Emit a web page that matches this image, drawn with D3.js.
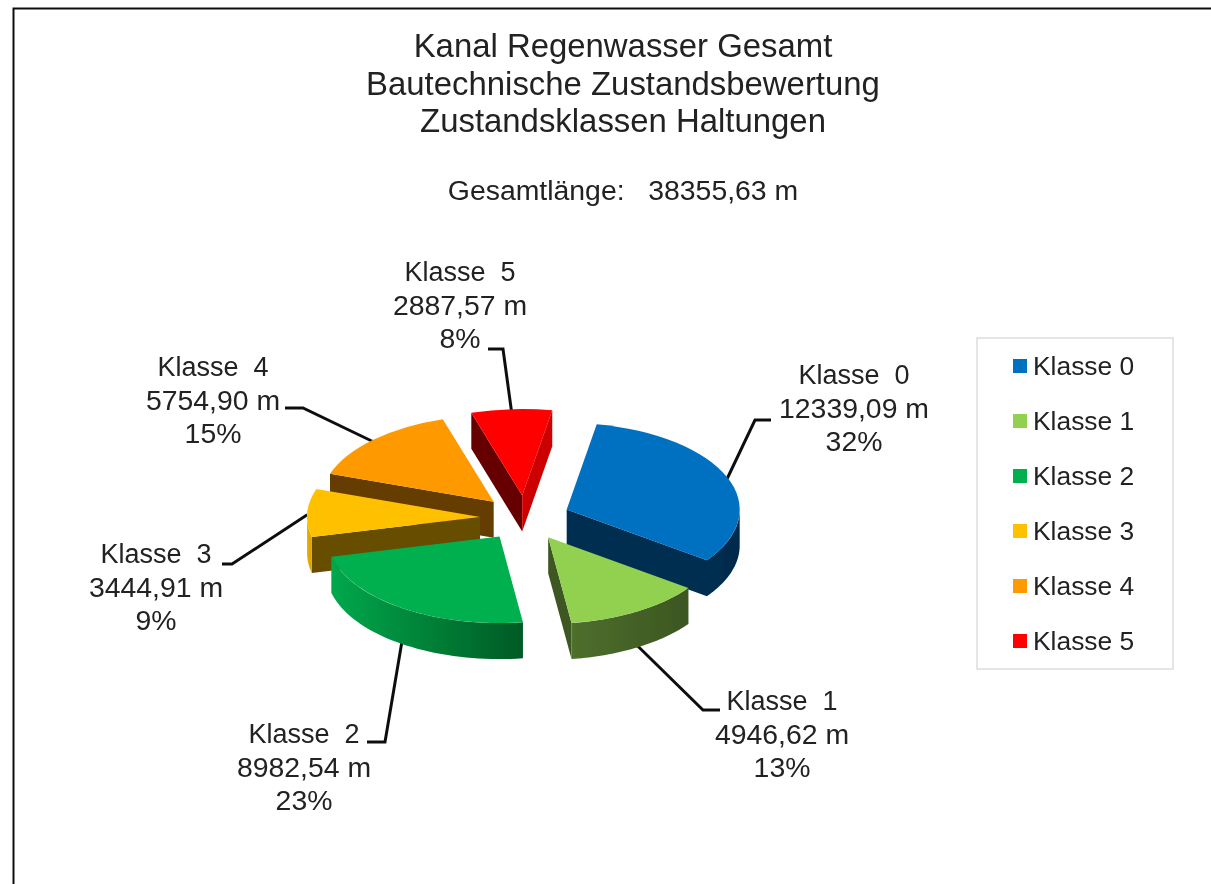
<!DOCTYPE html>
<html>
<head>
<meta charset="utf-8">
<script src="https://cdn.jsdelivr.net/npm/d3@7"></script>
<style>
  html, body { margin: 0; padding: 0; background: #fff; }
  svg { display: block; }
  text { font-family: "Liberation Sans", Arial, sans-serif; fill: #222; white-space: pre; }
</style>
</head>
<body>
<svg id="chart"></svg>
<script>
const categories = ["Klasse 0", "Klasse 1", "Klasse 2", "Klasse 3", "Klasse 4", "Klasse 5"];
const lengths = [12339.09, 4946.62, 8982.54, 3444.91, 5754.9, 2887.57];
const lengthLabels = ["12339,09 m", "4946,62 m", "8982,54 m", "3444,91 m", "5754,90 m", "2887,57 m"];
const percentLabels = ["32%", "13%", "23%", "9%", "15%", "8%"];
const titleLines = ["Kanal Regenwasser Gesamt", "Bautechnische Zustandsbewertung", "Zustandsklassen Haltungen"];
const subtitle = "Gesamtlänge:   38355,63 m";

const colors = ["#0070c0", "#92d050", "#00b050", "#ffc000", "#ff9900", "#ff0000"];
const wallColors = [
  ["#002f52", "#002a4a"],
  ["#4d6f2c", "#3c5621"],
  ["#00a84c", "#005a24"],
  ["#e8ae00", "#d9a300"],
  ["#c47600", "#a86400"],
  ["#990000", "#990000"],
];

const width = 1211;
const height = 884;

// 3d look of the pie
const cx = 525;
const cy = 518;
const radius = 173;
const tilt = 0.5;
const depth = 36;
const explode = 45;
const rotation = (10 * Math.PI) / 180;

// label anchor and leader elbow per class
const labelLayout = [
  { x: 854, y: 384, elbow: [[755, 420], [771, 420]] },
  { x: 782, y: 710, elbow: [[703, 710], [720, 710]] },
  { x: 304, y: 743, elbow: [[385, 742], [367, 742]] },
  { x: 156, y: 563, elbow: [[232, 564], [222, 564]] },
  { x: 213, y: 376, elbow: [[303, 408], [285, 408]] },
  { x: 460, y: 281, elbow: [[503, 349], [488, 349]] },
];

const $svg = d3.select("#chart").attr("width", width).attr("height", height);
const color = d3.scaleOrdinal(categories, colors);
const defs = $svg.append("defs");

// the reference is a slightly soft screenshot
defs
  .append("filter")
  .attr("id", "soft")
  .attr("filterUnits", "userSpaceOnUse")
  .attr("x", 0)
  .attr("y", 0)
  .attr("width", width)
  .attr("height", height)
  .append("feGaussianBlur")
  .attr("stdDeviation", 0.45);

const root = $svg.append("g").attr("filter", "url(#soft)");

root.append("rect").attr("width", width).attr("height", height).attr("fill", "#fff");
root
  .append("path")
  .attr("d", `M13.5,${height}V8.5H${width}`)
  .attr("fill", "none")
  .attr("stroke", "#111")
  .attr("stroke-width", 2);

// titles
const titleY = [57, 95, 132];
root
  .append("g")
  .selectAll("text")
  .data(titleLines)
  .join("text")
  .attr("x", 623)
  .attr("y", (d, i) => titleY[i])
  .attr("text-anchor", "middle")
  .attr("font-size", 32.9)
  .text((d) => d);

root
  .append("text")
  .attr("x", 623)
  .attr("y", 200)
  .attr("text-anchor", "middle")
  .attr("font-size", 28.4)
  .text(subtitle);

// pie layout, exploded slices
const pie = d3.pie().sort(null).startAngle(rotation).endAngle(rotation + 2 * Math.PI);
const slices = pie(lengths).map((s, i) => {
  const mid = (s.startAngle + s.endAngle) / 2;
  return {
    ...s,
    i,
    mid,
    ax: cx + Math.sin(mid) * explode,
    ay: cy - Math.cos(mid) * explode * tilt,
  };
});

const rim = (s, a) => [s.ax + Math.sin(a) * radius, s.ay - Math.cos(a) * radius * tilt];

// leader lines sit under the slices
const leader = d3.line();
root
  .append("g")
  .selectAll("path")
  .data(slices)
  .join("path")
  .attr("fill", "none")
  .attr("stroke", "#111")
  .attr("stroke-width", 3)
  .attr("d", (s) => {
    const [x, y] = rim(s, s.mid);
    const front = Math.cos(s.mid) < 0;
    return leader([[x, front ? y + depth - 2 : y + 2], ...labelLayout[s.i].elbow]);
  });

const shade = (c, k) => {
  const rgb = d3.rgb(c);
  return d3.rgb(rgb.r * k, rgb.g * k, rgb.b * k).formatHex();
};

const topArc = d3.arc().innerRadius(0).outerRadius(radius);
const pieG = root.append("g");
const wallArea = d3
  .area()
  .x((d) => d[0])
  .y0((d) => d[1])
  .y1((d) => d[1] + depth);

// back slices first
const order = slices.slice().sort((a, b) => Math.cos(b.mid) - Math.cos(a.mid));
order.forEach((s) => {
  const g = pieG.append("g");
  const c = color(categories[s.i]);
  const apex = [s.ax, s.ay];
  const quad = (a, fill) => {
    const p = rim(s, a);
    g.append("path")
      .attr("fill", fill)
      .attr("d", `M${apex}L${p}L${[p[0], p[1] + depth]}L${[apex[0], apex[1] + depth]}Z`);
  };
  if (Math.sin(s.startAngle) < 0) {
    quad(s.startAngle, shade(c, 0.4));
  }
  if (Math.sin(s.endAngle) > 0) {
    // right side cut of the red slice is lit, the others stay dark
    quad(s.endAngle, shade(c, s.i === 5 ? 0.8 : 0.42));
  }

  // outer wall is only seen on the lower half of the ellipse
  const from = Math.max(s.startAngle, Math.PI / 2);
  const to = Math.min(s.endAngle, (3 * Math.PI) / 2);
  if (to > from) {
    const pts = d3.range(0, 41).map((t) => rim(s, from + ((to - from) * t) / 40));
    const xs = pts.map((d) => d[0]);
    const grad = defs
      .append("linearGradient")
      .attr("id", `wall${s.i}`)
      .attr("gradientUnits", "userSpaceOnUse")
      .attr("x1", d3.min(xs))
      .attr("x2", d3.max(xs))
      .attr("y1", 0)
      .attr("y2", 0);
    const [left, right] = wallColors[s.i];
    grad.append("stop").attr("offset", 0).attr("stop-color", left);
    grad.append("stop").attr("offset", 1).attr("stop-color", right);
    g.append("path").attr("fill", `url(#wall${s.i})`).attr("d", wallArea(pts));
  }

  g.append("path")
    .attr("fill", c)
    .attr("transform", `translate(${s.ax},${s.ay}) scale(1,${tilt})`)
    .attr("d", topArc(s));
});

// data labels
const labels = root
  .append("g")
  .selectAll("g")
  .data(slices)
  .join("g")
  .attr("transform", (s) => `translate(${labelLayout[s.i].x},${labelLayout[s.i].y})`)
  .attr("text-anchor", "middle")
  .attr("font-size", 28.4);
labels
  .append("text")
  .attr("font-size", 27)
  .text((s) => categories[s.i].replace(" ", "  "));
labels.append("text").attr("y", 33.5).text((s) => lengthLabels[s.i]);
labels.append("text").attr("y", 67).text((s) => percentLabels[s.i]);

// legend
const legendY = d3.scalePoint().domain(categories).range([366, 641]);
root
  .append("rect")
  .attr("x", 977)
  .attr("y", 338)
  .attr("width", 196)
  .attr("height", 331)
  .attr("fill", "#fff")
  .attr("stroke", "#cccccc");
const legend = root
  .append("g")
  .selectAll("g")
  .data(categories)
  .join("g")
  .attr("transform", (d) => `translate(1013,${legendY(d)})`);
legend
  .append("rect")
  .attr("y", -7)
  .attr("width", 14)
  .attr("height", 14)
  .attr("fill", (d) => color(d));
legend
  .append("text")
  .attr("x", 20)
  .attr("y", 9)
  .attr("font-size", 26.4)
  .text((d) => d);
</script>
</body>
</html>
